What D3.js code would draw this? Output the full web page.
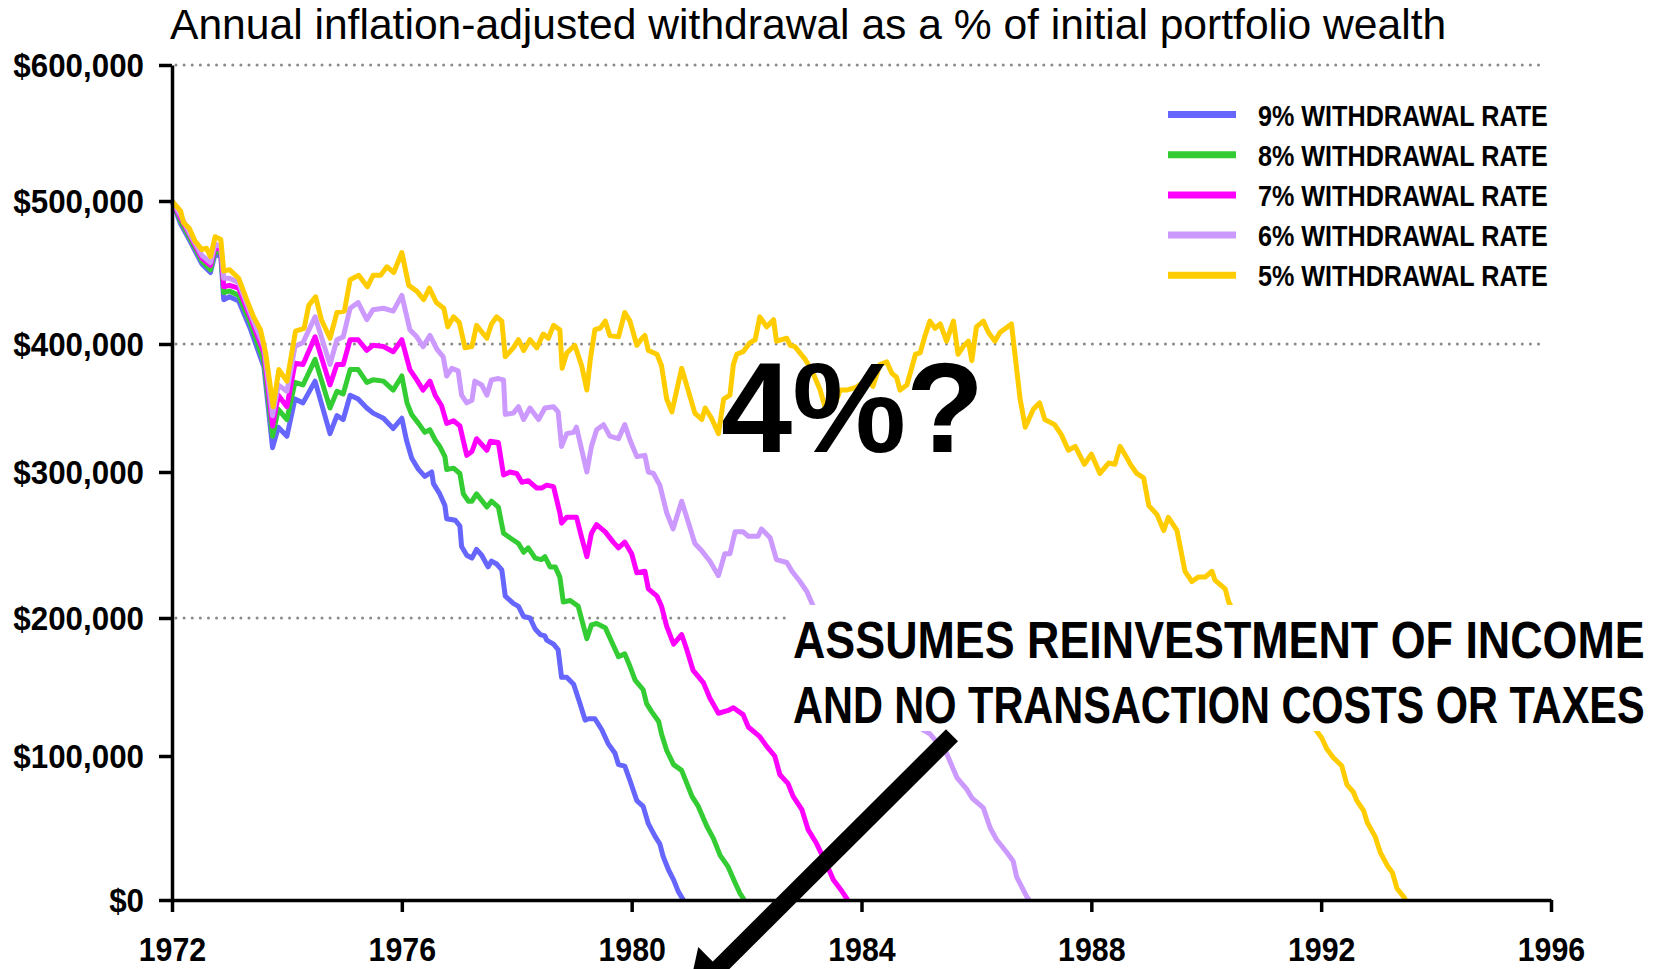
<!DOCTYPE html>
<html><head><meta charset="utf-8">
<script src="https://cdn.jsdelivr.net/npm/d3@7"></script>
<style>
html,body{margin:0;padding:0;background:#fff;}
svg{display:block;font-family:"Liberation Sans",Arial,Helvetica,sans-serif;}
</style></head><body>
<svg id="chart" width="1661" height="969"></svg>
<script>
// ---------- DATA (values in $ thousands, time in decimal years) ----------
const titleText = "Annual inflation-adjusted withdrawal as a % of initial portfolio wealth";
const yearTicks = [1972, 1976, 1980, 1984, 1988, 1992, 1996];
const valueTicks = [0, 100000, 200000, 300000, 400000, 500000, 600000];
const gridValues = [200000, 400000, 600000];
const seriesNames = ["9% WITHDRAWAL RATE", "8% WITHDRAWAL RATE", "7% WITHDRAWAL RATE", "6% WITHDRAWAL RATE", "5% WITHDRAWAL RATE"];
const seriesColors = ["#6666FF", "#33CC33", "#FF00FF", "#CC99FF", "#FFCC00"];
const noteLines = ["ASSUMES REINVESTMENT OF INCOME", "AND NO TRANSACTION COSTS OR TAXES"];
const bigQuestion = "4%?";
const arrowFrom = [1985.575, 115];
const arrowTo = [1980.96, -69];

const rate9 = [[1972.00,500],[1972.15,484],[1972.30,473],[1972.52,456],[1972.67,450],[1972.75,463],[1972.85,461],[1972.90,431],[1973.00,433],[1973.16,430],[1973.36,411],[1973.60,382],[1973.75,319],[1973.85,335],[1974.00,328],[1974.14,357],[1974.28,354],[1974.49,371],[1974.75,330],[1974.87,344],[1974.98,341],[1975.10,360],[1975.24,357],[1975.39,350],[1975.50,346],[1975.68,342],[1975.85,334],[1976.00,342],[1976.08,325],[1976.17,311],[1976.29,302],[1976.40,297],[1976.52,300],[1976.55,292],[1976.66,285],[1976.75,277],[1976.78,268],[1976.93,267],[1977.01,263],[1977.04,249],[1977.13,243],[1977.22,241],[1977.30,247],[1977.39,243],[1977.50,235],[1977.56,239],[1977.65,237],[1977.74,233],[1977.80,215],[1977.94,210],[1978.03,208],[1978.12,201],[1978.23,200],[1978.32,192],[1978.41,188],[1978.49,187],[1978.52,184],[1978.64,181],[1978.72,177],[1978.78,157],[1978.87,157],[1978.99,152],[1979.10,138],[1979.19,126],[1979.25,127],[1979.36,127],[1979.48,119],[1979.59,109],[1979.71,102],[1979.77,94],[1979.88,93],[1979.97,83],[1980.09,69],[1980.20,65],[1980.29,53],[1980.41,44],[1980.49,39],[1980.55,30],[1980.64,21],[1980.73,14],[1980.81,6],[1980.90,0]];

const rate8 = [[1972.00,500],[1972.15,486],[1972.30,475],[1972.52,458],[1972.67,452],[1972.75,466],[1972.85,463],[1972.90,436],[1973.00,437],[1973.16,434],[1973.36,415],[1973.60,386],[1973.75,328],[1973.85,349],[1974.00,341],[1974.14,370],[1974.28,368],[1974.49,388],[1974.75,350],[1974.87,363],[1974.98,361],[1975.10,380],[1975.24,380],[1975.39,370],[1975.50,372],[1975.68,371],[1975.85,364],[1976.00,375],[1976.09,354],[1976.17,345],[1976.29,338],[1976.40,331],[1976.49,333],[1976.58,325],[1976.66,320],[1976.75,312],[1976.78,302],[1976.90,303],[1977.01,299],[1977.07,285],[1977.16,280],[1977.22,280],[1977.30,285],[1977.48,276],[1977.56,280],[1977.68,276],[1977.77,258],[1977.88,255],[1978.03,251],[1978.12,245],[1978.20,248],[1978.32,241],[1978.43,240],[1978.49,242],[1978.58,235],[1978.67,235],[1978.75,228],[1978.81,211],[1978.93,212],[1979.07,208],[1979.13,199],[1979.22,185],[1979.30,195],[1979.39,196],[1979.54,193],[1979.65,183],[1979.77,172],[1979.88,174],[1979.97,165],[1980.06,155],[1980.20,148],[1980.26,138],[1980.35,132],[1980.47,125],[1980.52,116],[1980.61,104],[1980.73,94],[1980.87,90],[1980.96,81],[1981.05,72],[1981.16,65],[1981.31,51],[1981.42,43],[1981.54,31],[1981.68,23],[1981.80,12],[1981.88,5],[1981.96,0]];

const rate7 = [[1972.00,500],[1972.15,488],[1972.30,477],[1972.52,460],[1972.67,455],[1972.75,468],[1972.85,466],[1972.90,440],[1973.00,441],[1973.16,439],[1973.36,419],[1973.60,393],[1973.75,336],[1973.85,360],[1974.00,351],[1974.14,385],[1974.28,384],[1974.49,405],[1974.75,368],[1974.87,384],[1974.98,384],[1975.10,403],[1975.24,403],[1975.39,395],[1975.50,399],[1975.68,398],[1975.85,394],[1976.00,403],[1976.14,380],[1976.26,372],[1976.37,364],[1976.49,371],[1976.58,360],[1976.69,352],[1976.78,338],[1976.90,340],[1977.01,336],[1977.13,313],[1977.22,316],[1977.30,326],[1977.48,317],[1977.54,324],[1977.68,323],[1977.77,298],[1977.88,300],[1978.00,299],[1978.09,293],[1978.20,294],[1978.35,289],[1978.43,289],[1978.52,291],[1978.64,290],[1978.75,272],[1978.78,265],[1978.87,269],[1979.04,269],[1979.13,255],[1979.22,242],[1979.30,258],[1979.39,264],[1979.54,259],[1979.68,252],[1979.77,248],[1979.88,252],[1980.00,244],[1980.09,231],[1980.23,232],[1980.29,220],[1980.44,215],[1980.52,208],[1980.61,194],[1980.73,181],[1980.87,188],[1980.96,177],[1981.07,162],[1981.25,153],[1981.36,142],[1981.51,131],[1981.68,133],[1981.77,135],[1981.94,130],[1982.03,121],[1982.23,114],[1982.35,107],[1982.49,100],[1982.58,87],[1982.72,81],[1982.81,72],[1982.96,63],[1983.07,49],[1983.22,39],[1983.39,25],[1983.51,14],[1983.66,6],[1983.76,0]];

const rate6 = [[1972.00,500],[1972.15,490],[1972.30,478],[1972.52,462],[1972.67,457],[1972.75,470],[1972.85,468],[1972.90,446],[1973.00,446],[1973.16,443],[1973.36,422],[1973.60,398],[1973.75,344],[1973.85,368],[1974.00,363],[1974.14,398],[1974.28,401],[1974.49,419],[1974.75,384],[1974.87,403],[1974.98,405],[1975.10,425],[1975.24,429],[1975.39,417],[1975.50,424],[1975.68,425],[1975.85,423],[1976.00,434],[1976.14,410],[1976.26,405],[1976.37,398],[1976.49,406],[1976.61,396],[1976.72,390],[1976.78,375],[1976.87,381],[1976.98,379],[1977.04,360],[1977.13,354],[1977.22,356],[1977.27,371],[1977.39,368],[1977.48,360],[1977.56,372],[1977.68,373],[1977.77,372],[1977.80,345],[1977.94,346],[1978.03,351],[1978.12,341],[1978.23,350],[1978.38,341],[1978.49,350],[1978.64,351],[1978.72,347],[1978.78,320],[1978.87,330],[1978.99,331],[1979.04,335],[1979.22,300],[1979.30,320],[1979.39,333],[1979.51,337],[1979.62,328],[1979.77,326],[1979.88,337],[1979.97,325],[1980.09,312],[1980.23,313],[1980.29,300],[1980.38,299],[1980.49,291],[1980.61,272],[1980.72,261],[1980.87,280],[1980.99,265],[1981.10,251],[1981.22,246],[1981.36,239],[1981.51,229],[1981.62,244],[1981.71,244],[1981.80,259],[1981.94,259],[1982.03,256],[1982.20,256],[1982.26,261],[1982.41,255],[1982.52,240],[1982.70,238],[1982.79,232],[1982.93,225],[1983.05,218],[1983.16,208],[1983.35,197],[1983.55,185],[1983.75,172],[1983.95,165],[1984.15,153],[1984.35,146],[1984.55,137],[1984.75,131],[1984.95,122],[1985.19,116],[1985.48,102],[1985.66,85],[1985.83,77],[1985.92,71],[1986.12,64],[1986.24,50],[1986.35,42],[1986.53,33],[1986.64,27],[1986.70,16],[1986.88,2],[1986.92,0]];

const rate5 = [[1972.00,500],[1972.15,493],[1972.20,485],[1972.30,481],[1972.40,472],[1972.52,466],[1972.60,467],[1972.67,461],[1972.75,475],[1972.85,473],[1972.90,451],[1973.00,452],[1973.16,446],[1973.30,431],[1973.42,419],[1973.54,410],[1973.63,393],[1973.76,351],[1973.86,380],[1974.00,371],[1974.15,409],[1974.30,411],[1974.38,427],[1974.50,433],[1974.60,417],[1974.75,404],[1974.87,422],[1975.00,423],[1975.10,445],[1975.25,448],[1975.40,440],[1975.50,448],[1975.63,448],[1975.74,454],[1975.86,450],[1976.00,464],[1976.12,441],[1976.26,437],[1976.38,431],[1976.48,439],[1976.60,429],[1976.73,425],[1976.80,412],[1976.90,419],[1977.00,415],[1977.10,397],[1977.22,398],[1977.30,413],[1977.48,404],[1977.56,414],[1977.65,419],[1977.74,416],[1977.80,390],[1977.94,397],[1978.03,403],[1978.12,395],[1978.23,403],[1978.35,397],[1978.46,407],[1978.55,404],[1978.64,413],[1978.75,410],[1978.79,381],[1978.87,393],[1979.01,399],[1979.13,383],[1979.22,364],[1979.28,388],[1979.36,410],[1979.45,411],[1979.54,416],[1979.62,406],[1979.77,405],[1979.88,422],[1979.97,416],[1980.09,399],[1980.18,404],[1980.23,406],[1980.29,395],[1980.44,392],[1980.52,383],[1980.61,357],[1980.70,347],[1980.87,381],[1981.10,346],[1981.22,341],[1981.28,350],[1981.39,342],[1981.51,330],[1981.60,357],[1981.71,360],[1981.77,384],[1981.83,392],[1981.94,394],[1982.06,401],[1982.15,403],[1982.23,419],[1982.35,412],[1982.47,417],[1982.52,402],[1982.70,404],[1982.76,399],[1982.84,398],[1983.02,388],[1983.16,377],[1983.28,364],[1983.37,350],[1983.51,350],[1983.63,364],[1983.74,364],[1983.90,366],[1984.09,372],[1984.20,367],[1984.32,384],[1984.44,386],[1984.53,377],[1984.61,374],[1984.67,364],[1984.79,368],[1984.94,392],[1985.02,393],[1985.10,405],[1985.19,416],[1985.28,411],[1985.37,414],[1985.48,402],[1985.60,416],[1985.68,392],[1985.77,398],[1985.86,402],[1985.92,387],[1986.00,412],[1986.12,416],[1986.21,408],[1986.32,402],[1986.41,408],[1986.61,414],[1986.76,357],[1986.85,335],[1986.99,349],[1987.10,354],[1987.19,341],[1987.36,337],[1987.48,329],[1987.60,317],[1987.72,320],[1987.88,306],[1988.00,314],[1988.15,299],[1988.30,307],[1988.41,306],[1988.50,320],[1988.62,311],[1988.68,306],[1988.79,299],[1988.91,296],[1989.00,277],[1989.14,271],[1989.26,260],[1989.34,269],[1989.49,260],[1989.63,232],[1989.75,225],[1989.86,228],[1989.98,228],[1990.10,232],[1990.15,226],[1990.33,220],[1990.39,211],[1990.50,203],[1990.70,196],[1990.90,186],[1991.10,172],[1991.30,160],[1991.50,143],[1991.75,128],[1992.01,113],[1992.10,105],[1992.21,99],[1992.36,93],[1992.45,80],[1992.56,75],[1992.62,69],[1992.74,62],[1992.80,54],[1992.94,44],[1993.03,33],[1993.15,24],[1993.24,19],[1993.32,8],[1993.44,2],[1993.47,0]];

const seriesData = [rate9, rate8, rate7, rate6, rate5];

// ---------- CHART ----------
const FONT = '"Liberation Sans", Arial, Helvetica, sans-serif';
const svg = d3.select("#chart");
const x = d3.scaleLinear().domain([1972, 1996]).range([172, 1551]);
const y = d3.scaleLinear().domain(valueTicks).range([900, 756, 618, 472, 344, 201, 65]);

// horizontally squeeze a text (start-anchored) to a target width, keeping its anchor point
function squeezeTo(sel, ax, ay, target) {
  sel.each(function () {
    const w = this.getComputedTextLength();
    const s = target / w;
    d3.select(this).attr("x", 0).attr("y", 0)
      .attr("transform", `translate(${ax},${ay}) scale(${s},1)`);
  });
}

// title
svg.append("text").attr("x", 170).attr("y", 39)
  .attr("font-size", 42.6).attr("fill", "#000").text(titleText);

// dotted gridlines
svg.append("g").selectAll("line").data(gridValues).join("line")
  .attr("x1", x(1972) + 4).attr("x2", 1541)
  .attr("y1", d => y(d)).attr("y2", d => y(d))
  .attr("stroke", "#8a8a8a").attr("stroke-width", 3)
  .attr("stroke-linecap", "round").attr("stroke-dasharray", "0.01 8.1");

// series lines
const line = d3.line().x(d => x(d[0])).y(d => y(d[1] * 1000));
svg.append("g").selectAll("path").data(seriesData).join("path")
  .attr("d", line).attr("fill", "none")
  .attr("stroke", (d, i) => seriesColors[i])
  .attr("stroke-width", 5).attr("stroke-linejoin", "round");

// white backing box for note
svg.append("rect").attr("x", 788).attr("y", 605).attr("width", 873).attr("height", 126).attr("fill", "#fff");

// y axis
const gy = svg.append("g").attr("transform", `translate(${x(1972)},0)`)
  .call(d3.axisLeft(y).tickValues(valueTicks).tickFormat(d3.format("$,")).tickSize(13).tickSizeOuter(0));
gy.attr("font-family", FONT).attr("font-size", 33);
gy.select(".domain").attr("stroke", "#000").attr("stroke-width", 3.5);
gy.selectAll(".tick line").attr("stroke", "#000").attr("stroke-width", 3.5);
gy.selectAll(".tick text").attr("x", -28 / 0.95).attr("dy", "0.35em")
  .attr("transform", "scale(0.95,1)")
  .attr("font-weight", "bold").attr("fill", "#000");

// x axis
const gx = svg.append("g").attr("transform", `translate(0,${y(0)})`)
  .call(d3.axisBottom(x).tickValues(yearTicks).tickFormat(d3.format("d")).tickSize(12).tickSizeOuter(0));
gx.attr("font-family", FONT).attr("font-size", 33);
gx.select(".domain").attr("stroke", "#000").attr("stroke-width", 3.5);
gx.selectAll(".tick line").attr("stroke", "#000").attr("stroke-width", 3.5);
gx.selectAll(".tick text").attr("y", 61).attr("dy", 0)
  .attr("transform", "scale(0.92,1)")
  .attr("font-weight", "bold").attr("fill", "#000");

// legend
const legend = svg.append("g");
const legendRows = legend.selectAll("g").data(seriesNames).join("g")
  .attr("transform", (d, i) => `translate(0,${114.5 + i * 40.2})`);
legendRows.append("line").attr("x1", 1168).attr("x2", 1236).attr("y1", 0).attr("y2", 0)
  .attr("stroke", (d, i) => seriesColors[i]).attr("stroke-width", 7);
legendRows.append("text")
  .attr("font-size", 29).attr("font-weight", "bold").attr("fill", "#000")
  .text(d => d)
  .call(sel => squeezeTo(sel, 1258, 11, 290));

// big 4%?
svg.append("text").attr("x", 721).attr("y", 452)
  .attr("font-size", 128).attr("font-weight", "bold").attr("fill", "#000").text(bigQuestion);

// note text
const notes = svg.append("g");
noteLines.forEach((t, i) => {
  notes.append("text").attr("font-size", 51).attr("font-weight", "bold").attr("fill", "#000")
    .text(t).call(sel => squeezeTo(sel, 793, 658 + i * 65, 852));
});

// arrow
const p0 = [x(arrowFrom[0]), y(arrowFrom[1] * 1000)];
const p1 = [x(arrowTo[0]), y(arrowTo[1] * 1000)];
const adx = p1[0] - p0[0], ady = p1[1] - p0[1], L = Math.hypot(adx, ady);
const ux = adx / L, uy = ady / L, nx = -uy, ny = ux;
const headLen = 45, headHalf = 29;
const base = [p1[0] - ux * headLen, p1[1] - uy * headLen];
svg.append("line").attr("x1", p0[0]).attr("y1", p0[1])
  .attr("x2", base[0] + ux * 3).attr("y2", base[1] + uy * 3)
  .attr("stroke", "#000").attr("stroke-width", 17);
svg.append("path")
  .attr("d", `M${p1[0]},${p1[1]}L${base[0] + nx * headHalf},${base[1] + ny * headHalf}L${base[0] - nx * headHalf},${base[1] - ny * headHalf}Z`)
  .attr("fill", "#000");
</script>
</body></html>
